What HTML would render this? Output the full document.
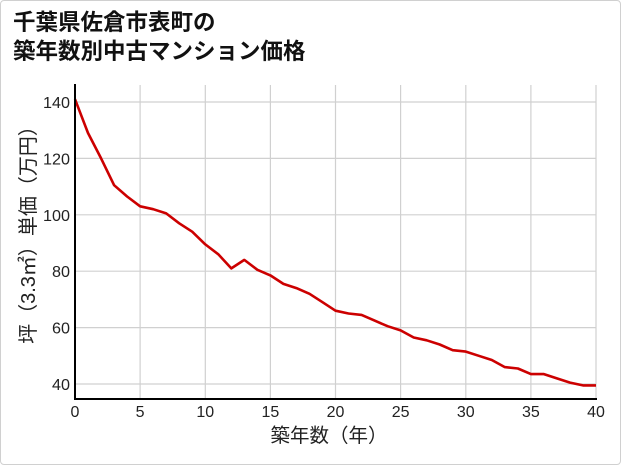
<!DOCTYPE html>
<html><head><meta charset="utf-8"><style>
html,body{margin:0;padding:0;background:#fff;}
.wrap{position:absolute;left:0;top:0;width:619px;height:463px;border:1px solid #d0d0d0;border-radius:4px;overflow:hidden;background:#fff;}
</style></head><body><div class="wrap">
<svg width="621" height="465" xmlns="http://www.w3.org/2000/svg" style="position:absolute;left:-1px;top:-1px">
<text x="13" y="30" font-family="'Liberation Sans','Noto Sans CJK JP',sans-serif" font-size="22.5" font-weight="bold" fill="#111">千葉県佐倉市表町の</text>
<text x="13" y="59" font-family="'Liberation Sans','Noto Sans CJK JP',sans-serif" font-size="22.5" font-weight="bold" fill="#111">築年数別中古マンション価格</text>
<g stroke="#d0d0d0" stroke-width="1.2">
<line x1="75" y1="102" x2="596" y2="102"/><line x1="75" y1="158.4" x2="596" y2="158.4"/><line x1="75" y1="214.8" x2="596" y2="214.8"/><line x1="75" y1="271.2" x2="596" y2="271.2"/><line x1="75" y1="327.6" x2="596" y2="327.6"/><line x1="75" y1="384" x2="596" y2="384"/>
<line x1="140.1" y1="85" x2="140.1" y2="399"/><line x1="205.3" y1="85" x2="205.3" y2="399"/><line x1="270.4" y1="85" x2="270.4" y2="399"/><line x1="335.5" y1="85" x2="335.5" y2="399"/><line x1="400.6" y1="85" x2="400.6" y2="399"/><line x1="465.8" y1="85" x2="465.8" y2="399"/><line x1="530.9" y1="85" x2="530.9" y2="399"/><line x1="596" y1="85" x2="596" y2="399"/>
</g>
<polyline fill="none" stroke="#cc0000" stroke-width="2.6" stroke-linejoin="round" points="75,99.2 88,133 101.1,158.4 114.1,185.2 127.1,196.5 140.1,206.3 153.2,209.2 166.2,213.4 179.2,223.3 192.2,231.7 205.3,244.4 218.3,254.3 231.3,268.4 244.3,259.9 257.4,269.8 270.4,275.4 283.4,283.9 296.4,288.1 309.5,293.8 322.5,302.2 335.5,310.7 348.5,313.5 361.6,314.9 374.6,320.6 387.6,326.2 400.6,330.4 413.7,337.5 426.7,340.3 439.7,344.5 452.7,350.2 465.8,351.6 478.8,355.8 491.8,360 504.8,367.1 517.9,368.5 530.9,374.1 543.9,374.1 556.9,378.4 570,382.6 583,385.4 596,385.4"/>
<line x1="75" y1="84" x2="75" y2="400" stroke="#000" stroke-width="2"/>
<line x1="74" y1="399" x2="597" y2="399" stroke="#000" stroke-width="2"/>
<g font-family="'Liberation Sans',sans-serif" font-size="16" fill="#222" text-anchor="end">
<text x="70" y="108" textLength="27" lengthAdjust="spacingAndGlyphs">140</text><text x="70" y="164.4" textLength="27" lengthAdjust="spacingAndGlyphs">120</text><text x="70" y="220.8" textLength="27" lengthAdjust="spacingAndGlyphs">100</text><text x="70" y="277.2" textLength="18" lengthAdjust="spacingAndGlyphs">80</text><text x="70" y="333.6" textLength="18" lengthAdjust="spacingAndGlyphs">60</text><text x="70" y="390" textLength="18" lengthAdjust="spacingAndGlyphs">40</text>
</g>
<g font-family="'Liberation Sans',sans-serif" font-size="16" fill="#222" text-anchor="middle">
<text x="75" y="417">0</text><text x="140.1" y="417">5</text><text x="205.3" y="417">10</text><text x="270.4" y="417">15</text><text x="335.5" y="417">20</text><text x="400.6" y="417">25</text><text x="465.8" y="417">30</text><text x="530.9" y="417">35</text><text x="596" y="417">40</text>
</g>
<text x="329" y="442" text-anchor="middle" font-family="'Liberation Sans','Noto Sans CJK JP',sans-serif" font-size="19.5" fill="#222">築年数（年）</text>
<text transform="translate(35,230) rotate(-90)" text-anchor="middle" font-family="'Liberation Sans','Noto Sans CJK JP',sans-serif" font-size="20" fill="#222">坪（3.3㎡）単価（万円）</text>
</svg></div></body></html>
